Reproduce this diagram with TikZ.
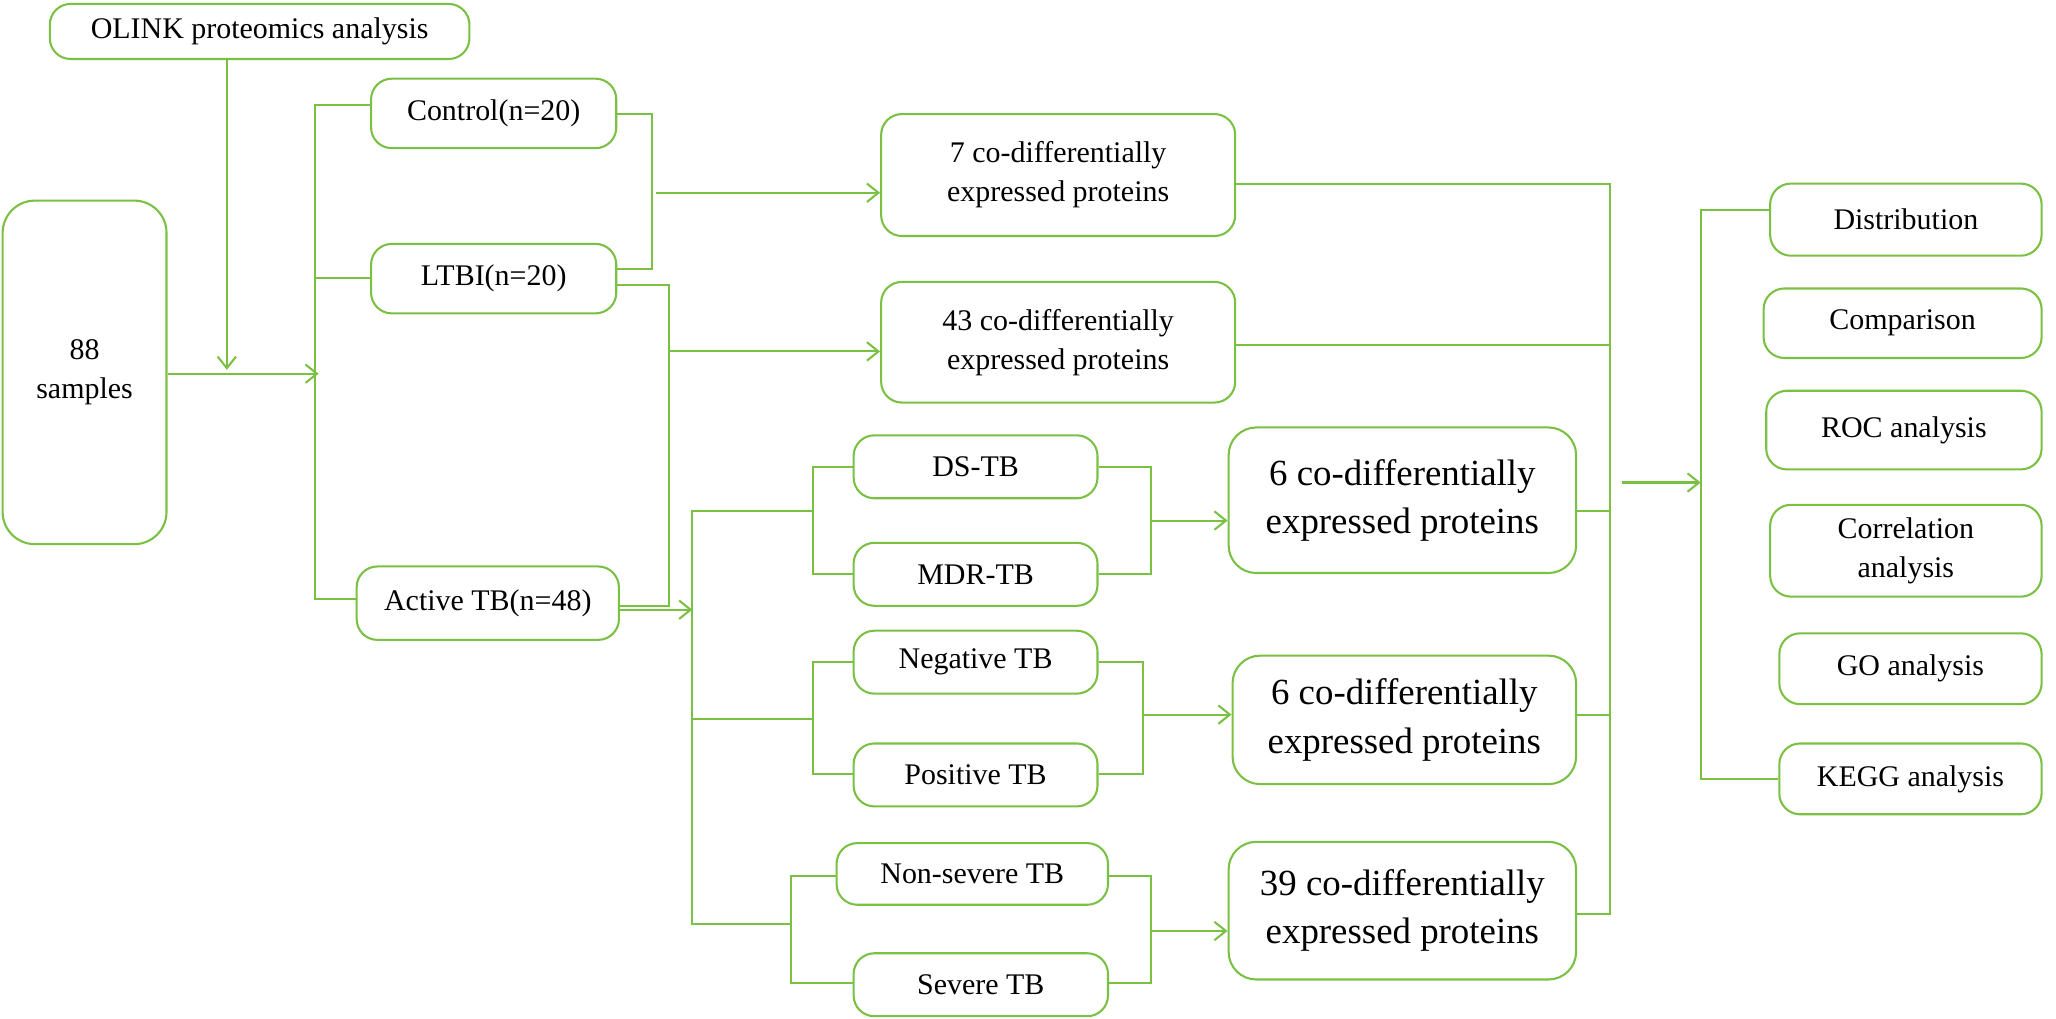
\documentclass[tikz,border=0pt]{standalone}
\usepackage{fontspec}
\setmainfont{Liberation Serif}
\usetikzlibrary{arrows.meta}
\definecolor{gr}{RGB}{122,192,66}
\newcommand{\bx}[7][]{\node[box,#1,minimum width={(#5-#3)*0.02cm},minimum height={(#6-#4)*0.02cm}] (#2) at ({(#3+#5)/2},{(#4+#6)/2}) {#7};}
\begin{document}
\begin{tikzpicture}[x=0.02cm,y=-0.02cm,
 box/.style={draw=gr,line width=0.9pt,rounded corners=9pt,align=center,font=\fontsize{13}{17}\selectfont,inner sep=1pt},
 big/.style={font=\fontsize{16}{21}\selectfont,rounded corners=12pt},
 ln/.style={draw=gr,line width=0.9pt},
 ar/.style={ln,-{Straight Barb[length=5pt,width=8pt]}}]
\useasboundingbox (0,0) rectangle (1568,777);
\bx{olink}{38}{3}{358}{45}{OLINK proteomics analysis}
\bx[rounded corners=14pt]{s88}{2}{153}{127}{415}{88\\samples}
\bx{ctrl}{283}{60}{470}{113}{Control(n=20)}
\bx{ltbi}{283}{186}{470}{239}{LTBI(n=20)}
\bx{act}{272}{432}{472}{488}{Active TB(n=48)}
\bx{c7}{672}{87}{942}{180}{7 co-differentially\\expressed proteins}
\bx{c43}{672}{215}{942}{307}{43 co-differentially\\expressed proteins}
\bx{ds}{651}{332}{837}{380}{DS-TB}
\bx{mdr}{651}{414}{837}{462}{MDR-TB}
\bx[big]{c6a}{937}{326}{1202}{437}{6 co-differentially\\expressed proteins}
\bx{neg}{651}{481}{837}{529}{Negative TB}
\bx{pos}{651}{567}{837}{615}{Positive TB}
\bx[big]{c6b}{940}{500}{1202}{598}{6 co-differentially\\expressed proteins}
\bx{nsev}{638}{643}{845}{690}{Non-severe TB}
\bx{sev}{651}{727}{845}{775}{Severe TB}
\bx[big]{c39}{937}{642}{1202}{747}{39 co-differentially\\expressed proteins}
\bx{dist}{1350}{140}{1557}{195}{Distribution}
\bx{comp}{1345}{220}{1557}{273}{Comparison}
\bx{roc}{1347}{298}{1557}{358}{ROC analysis}
\bx{corr}{1350}{385}{1557}{455}{Correlation\\analysis}
\bx{go}{1357}{483}{1557}{537}{GO analysis}
\bx{kegg}{1357}{567}{1557}{621}{KEGG analysis}
\coordinate (j1) at (173,282);
\draw[ar] (olink.south -| j1) -- (j1);
\coordinate (j2) at (243,285);
\draw[ar] (s88.east |- j2) -- (j2);
\draw[ln] (ctrl.west |- 0,80) -- (240,80) -- (240,457) -- (act.west |- 0,457);
\draw[ln] (240,212) -- (ltbi.west |- 0,212);
\draw[ln] (ctrl.east |- 0,87) -- (497,87) -- (497,205) -- (ltbi.east |- 0,205);
\draw[ar] (500,147) -- (c7.west |- 0,147);
\draw[ln] (ltbi.east |- 0,217) -- (510,217) -- (510,462) -- (act.east |- 0,462);
\draw[ar] (510,268) -- (c43.west |- 0,268);
\draw[ar] (act.east |- 0,465) -- (528,465);
\draw[ln] (620,390) -- (528,390) -- (528,705) -- (603,705);
\draw[ln] (528,548) -- (620,548);
\draw[ln] (ds.west |- 0,356) -- (620,356) -- (620,438) -- (mdr.west |- 0,438);
\draw[ln] (neg.west |- 0,505) -- (620,505) -- (620,590) -- (pos.west |- 0,590);
\draw[ln] (nsev.west |- 0,668) -- (603,668) -- (603,750) -- (sev.west |- 0,750);
\draw[ln] (ds.east |- 0,356) -- (878,356) -- (878,438) -- (mdr.east |- 0,438);
\draw[ar] (878,397) -- (c6a.west |- 0,397);
\draw[ln] (neg.east |- 0,505) -- (872,505) -- (872,590) -- (pos.east |- 0,590);
\draw[ar] (872,545) -- (c6b.west |- 0,545);
\draw[ln] (nsev.east |- 0,668) -- (878,668) -- (878,750) -- (sev.east |- 0,750);
\draw[ar] (878,710) -- (c39.west |- 0,710);
\draw[ln] (c7.east |- 0,140) -- (1228,140) -- (1228,697) -- (c39.east |- 0,697);
\draw[ln] (c43.east |- 0,263) -- (1228,263);
\draw[ln] (c6a.east |- 0,390) -- (1228,390);
\draw[ln] (c6b.east |- 0,545) -- (1228,545);
\draw[ar] (1237,368) -- (1297,368);
\draw[ln] (dist.west |- 0,160) -- (1297,160) -- (1297,594) -- (kegg.west |- 0,594);
\end{tikzpicture}
\end{document}
